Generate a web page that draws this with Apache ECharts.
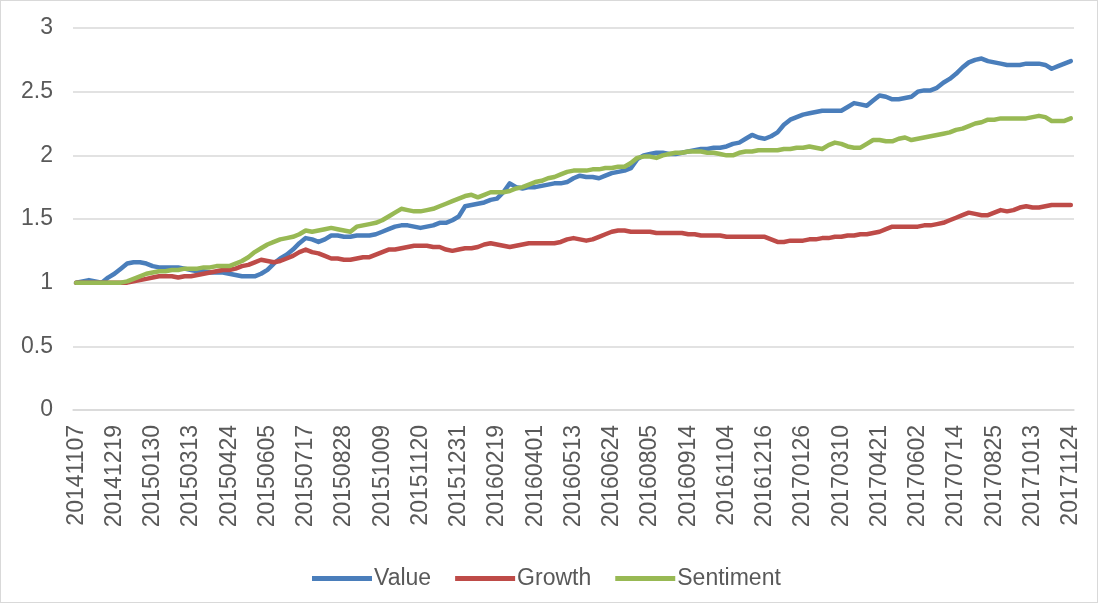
<!DOCTYPE html>
<html>
<head>
<meta charset="utf-8">
<script src="https://cdn.jsdelivr.net/npm/echarts@6/dist/echarts.min.js"></script>
<style>
html,body{margin:0;padding:0;background:#fff;}
#chart{width:1098px;height:603px;box-sizing:border-box;border:1px solid #d9d9d9;}
</style>
</head>
<body>
<div id="chart"></div>
<script>
const dates = [
'20141107','20141114','20141121','20141128','20141205','20141212','20141219','20141226','20141231','20150109',
'20150116','20150123','20150130','20150206','20150213','20150217','20150227','20150306','20150313','20150320',
'20150327','20150403','20150410','20150417','20150424','20150430','20150508','20150515','20150522','20150529',
'20150605','20150612','20150619','20150626','20150703','20150710','20150717','20150724','20150731','20150807',
'20150814','20150821','20150828','20150902','20150911','20150918','20150925','20150930','20151009','20151016',
'20151023','20151030','20151106','20151113','20151120','20151127','20151204','20151211','20151218','20151225',
'20151231','20160108','20160115','20160122','20160129','20160205','20160219','20160226','20160304','20160311',
'20160318','20160325','20160401','20160408','20160415','20160422','20160429','20160506','20160513','20160520',
'20160527','20160603','20160608','20160617','20160624','20160701','20160708','20160715','20160722','20160729',
'20160805','20160812','20160819','20160826','20160902','20160909','20160914','20160923','20160930','20161014',
'20161021','20161028','20161104','20161111','20161118','20161125','20161202','20161209','20161216','20161223',
'20161230','20170106','20170113','20170120','20170126','20170203','20170210','20170217','20170224','20170303',
'20170310','20170317','20170324','20170331','20170407','20170414','20170421','20170428','20170505','20170512',
'20170519','20170526','20170602','20170609','20170616','20170623','20170630','20170707','20170714','20170721',
'20170728','20170804','20170811','20170818','20170825','20170901','20170908','20170915','20170922','20170929',
'20171013','20171020','20171027','20171103','20171110','20171117','20171124'
];
const valueSeries = [
1.00,1.01,1.02,1.01,1.00,1.04,1.07,1.11,1.15,1.16,
1.16,1.15,1.13,1.12,1.12,1.12,1.12,1.11,1.10,1.09,
1.09,1.08,1.08,1.08,1.07,1.06,1.05,1.05,1.05,1.07,
1.10,1.15,1.19,1.22,1.26,1.31,1.35,1.34,1.32,1.34,
1.37,1.37,1.36,1.36,1.37,1.37,1.37,1.38,1.40,1.42,
1.44,1.45,1.45,1.44,1.43,1.44,1.45,1.47,1.47,1.49,
1.52,1.60,1.61,1.62,1.63,1.65,1.66,1.71,1.78,1.75,
1.74,1.75,1.75,1.76,1.77,1.78,1.78,1.79,1.82,1.84,
1.83,1.83,1.82,1.84,1.86,1.87,1.88,1.90,1.97,2.00,
2.01,2.02,2.02,2.01,2.01,2.02,2.03,2.04,2.05,2.05,
2.06,2.06,2.07,2.09,2.10,2.13,2.16,2.14,2.13,2.15,
2.18,2.24,2.28,2.30,2.32,2.33,2.34,2.35,2.35,2.35,
2.35,2.38,2.41,2.40,2.39,2.43,2.47,2.46,2.44,2.44,
2.45,2.46,2.50,2.51,2.51,2.53,2.57,2.60,2.64,2.69,
2.73,2.75,2.76,2.74,2.73,2.72,2.71,2.71,2.71,2.72,
2.72,2.72,2.71,2.68,2.70,2.72,2.74
];
const growthSeries = [
1.00,1.00,1.00,1.00,1.00,1.00,1.00,1.00,1.00,1.01,
1.02,1.03,1.04,1.05,1.05,1.05,1.04,1.05,1.05,1.06,
1.07,1.08,1.09,1.10,1.10,1.11,1.13,1.14,1.16,1.18,
1.17,1.16,1.17,1.19,1.21,1.24,1.26,1.24,1.23,1.21,
1.19,1.19,1.18,1.18,1.19,1.20,1.20,1.22,1.24,1.26,
1.26,1.27,1.28,1.29,1.29,1.29,1.28,1.28,1.26,1.25,
1.26,1.27,1.27,1.28,1.30,1.31,1.30,1.29,1.28,1.29,
1.30,1.31,1.31,1.31,1.31,1.31,1.32,1.34,1.35,1.34,
1.33,1.34,1.36,1.38,1.40,1.41,1.41,1.40,1.40,1.40,
1.40,1.39,1.39,1.39,1.39,1.39,1.38,1.38,1.37,1.37,
1.37,1.37,1.36,1.36,1.36,1.36,1.36,1.36,1.36,1.34,
1.32,1.32,1.33,1.33,1.33,1.34,1.34,1.35,1.35,1.36,
1.36,1.37,1.37,1.38,1.38,1.39,1.40,1.42,1.44,1.44,
1.44,1.44,1.44,1.45,1.45,1.46,1.47,1.49,1.51,1.53,
1.55,1.54,1.53,1.53,1.55,1.57,1.56,1.57,1.59,1.60,
1.59,1.59,1.60,1.61,1.61,1.61,1.61
];
const sentimentSeries = [
1.00,1.00,1.00,1.00,1.00,1.00,1.00,1.00,1.01,1.03,
1.05,1.07,1.08,1.09,1.09,1.10,1.10,1.11,1.11,1.11,
1.12,1.12,1.13,1.13,1.13,1.15,1.17,1.20,1.24,1.27,
1.30,1.32,1.34,1.35,1.36,1.38,1.41,1.40,1.41,1.42,
1.43,1.42,1.41,1.40,1.44,1.45,1.46,1.47,1.49,1.52,
1.55,1.58,1.57,1.56,1.56,1.57,1.58,1.60,1.62,1.64,
1.66,1.68,1.69,1.67,1.69,1.71,1.71,1.71,1.72,1.74,
1.75,1.77,1.79,1.80,1.82,1.83,1.85,1.87,1.88,1.88,
1.88,1.89,1.89,1.90,1.90,1.91,1.91,1.94,1.98,1.99,
1.99,1.98,2.00,2.01,2.02,2.02,2.03,2.03,2.03,2.02,
2.02,2.01,2.00,2.00,2.02,2.03,2.03,2.04,2.04,2.04,
2.04,2.05,2.05,2.06,2.06,2.07,2.06,2.05,2.08,2.10,
2.09,2.07,2.06,2.06,2.09,2.12,2.12,2.11,2.11,2.13,
2.14,2.12,2.13,2.14,2.15,2.16,2.17,2.18,2.20,2.21,
2.23,2.25,2.26,2.28,2.28,2.29,2.29,2.29,2.29,2.29,
2.30,2.31,2.30,2.27,2.27,2.27,2.29
];
const yTicks = {min: 0, max: 3, interval: 0.5};

const textColor = '#595959';
const fontFamily = '"Liberation Sans", Arial, sans-serif';
const chart = echarts.init(document.getElementById('chart'));
function mkSeries(name, data, color) {
  return {
    name: name, type: 'line', data: data, symbol: 'none', showSymbol: false,
    smooth: false, animation: false,
    lineStyle: {color: color, width: 4.5, cap: 'round', join: 'round'},
    itemStyle: {color: color}
  };
}
chart.setOption({
  animation: false,
  textStyle: {fontFamily: fontFamily},
  grid: {left: 72, right: 23, top: 27, bottom: 192, containLabel: false},
  legend: {
    data: ['Value', 'Growth', 'Sentiment'],
    left: 306, top: 561,
    itemWidth: 60, itemHeight: 5, itemGap: 24,
    icon: 'rect',
    textStyle: {color: textColor, fontSize: 23, fontFamily: fontFamily, padding: [0,0,0,-3]}
  },
  xAxis: {
    type: 'category', data: dates, boundaryGap: true,
    axisLine: {show: true, lineStyle: {color: '#d9d9d9', width: 1.5}},
    axisTick: {show: false},
    axisLabel: {interval: 5, rotate: 90, margin: 15, color: textColor, fontSize: 23, fontFamily: fontFamily},
    splitLine: {show: false}
  },
  yAxis: {
    type: 'value', min: yTicks.min, max: yTicks.max, interval: yTicks.interval,
    axisLine: {show: false}, axisTick: {show: false},
    axisLabel: {margin: 20, color: textColor, fontSize: 23, fontFamily: fontFamily},
    splitLine: {show: true, lineStyle: {color: '#d9d9d9', width: 1.5}}
  },
  series: [
    mkSeries('Value', valueSeries, '#4a7ebb'),
    mkSeries('Growth', growthSeries, '#be4b48'),
    mkSeries('Sentiment', sentimentSeries, '#98b954')
  ]
});
</script>
</body>
</html>
